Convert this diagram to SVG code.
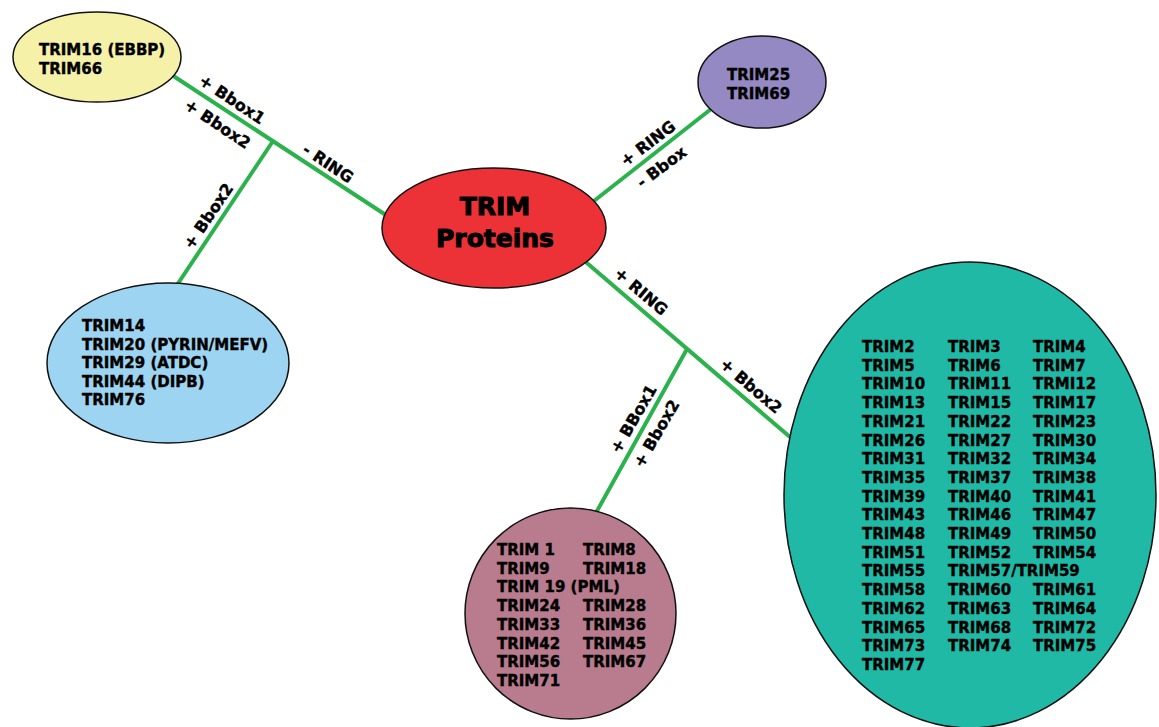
<svg xmlns="http://www.w3.org/2000/svg" width="1159" height="727" viewBox="0 0 1159 727">
<style>
.node{stroke:#111;stroke-width:1.5}
.t{font-family:"DejaVu Sans",sans-serif;font-weight:bold;font-size:15px;fill:#000;stroke:#000;stroke-width:0.4}
.lbl{font-family:"DejaVu Sans",sans-serif;font-weight:bold;font-size:16px;fill:#000;stroke:#000;stroke-width:0.4;text-anchor:middle;dominant-baseline:central}
.title{font-family:"DejaVu Sans",sans-serif;font-weight:bold;font-size:25px;fill:#000;stroke:#000;stroke-width:1;text-anchor:middle}
.edge{stroke:#2bb24c;stroke-width:4;fill:none}
</style>
<rect width="1159" height="727" fill="#fff"/>
<g id="connectors">
<line class="edge" x1="165" y1="70.5" x2="395" y2="221"/>
<line class="edge" x1="273" y1="141" x2="175" y2="288"/>
<line class="edge" x1="585" y1="208" x2="720" y2="102"/>
<line class="edge" x1="577" y1="254.5" x2="800" y2="445.6"/>
<line class="edge" x1="687" y1="349" x2="592" y2="520"/>
<text class="lbl" transform="translate(232,99.5) rotate(33.5)">+ Bbox1</text>
<text class="lbl" transform="translate(217.5,124) rotate(33.5)">+ Bbox2</text>
<text class="lbl" transform="translate(328,163.5) rotate(33.5)">- RING</text>
<text class="lbl" transform="translate(208.5,216) rotate(-56)">+ Bbox2</text>
<text class="lbl" transform="translate(648,143.5) rotate(-37)">+ RING</text>
<text class="lbl" transform="translate(661.5,167) rotate(-37)">- Bbox</text>
<text class="lbl" transform="translate(641,291.5) rotate(40.5)">+ RING</text>
<text class="lbl" transform="translate(751,386) rotate(40.5)">+ Bbox2</text>
<text class="lbl" transform="translate(633.5,419) rotate(-60)">+ BBox1</text>
<text class="lbl" transform="translate(656.5,433.5) rotate(-60)">+ Bbox2</text>
</g>
<g id="trim16">
<ellipse class="node" cx="97" cy="57" rx="84" ry="45" fill="#f6f1a9"/>
<text class="t" x="39" y="55">TRIM16 (EBBP)</text>
<text class="t" x="39" y="73.6">TRIM66</text>
</g>
<g id="trim25">
<ellipse class="node" cx="762" cy="82" rx="64" ry="46" fill="#9489c2"/>
<text class="t" x="727" y="80">TRIM25</text>
<text class="t" x="727" y="98.5">TRIM69</text>
</g>
<g id="trim-proteins">
<ellipse class="node" cx="494" cy="228" rx="112" ry="60" fill="#ed3237"/>
<text class="title" x="495" y="215">TRIM</text>
<text class="title" x="495" y="247">Proteins</text>
</g>
<g id="trim14">
<ellipse class="node" cx="168" cy="363" rx="121" ry="80" fill="#9dd4f1"/>
<text class="t" x="82" y="331">TRIM14</text>
<text class="t" x="82" y="349.6">TRIM20 (PYRIN/MEFV)</text>
<text class="t" x="82" y="368.2">TRIM29 (ATDC)</text>
<text class="t" x="82" y="386.8">TRIM44 (DIPB)</text>
<text class="t" x="82" y="405.4">TRIM76</text>
</g>
<g id="trim1">
<ellipse class="node" cx="570.5" cy="613.5" rx="105.5" ry="105.5" fill="#b97b8e"/>
<text class="t" x="497" y="555">TRIM 1</text><text class="t" x="583" y="555">TRIM8</text>
<text class="t" x="497" y="573.7">TRIM9</text><text class="t" x="583" y="573.7">TRIM18</text>
<text class="t" x="497" y="592.4">TRIM 19 (PML)</text>
<text class="t" x="497" y="611.1">TRIM24</text><text class="t" x="583" y="611.1">TRIM28</text>
<text class="t" x="497" y="629.8">TRIM33</text><text class="t" x="583" y="629.8">TRIM36</text>
<text class="t" x="497" y="648.5">TRIM42</text><text class="t" x="583" y="648.5">TRIM45</text>
<text class="t" x="497" y="667.2">TRIM56</text><text class="t" x="583" y="667.2">TRIM67</text>
<text class="t" x="497" y="685.9">TRIM71</text>
</g>
<g id="trim2">
<ellipse class="node" cx="970" cy="495" rx="186" ry="233" fill="#1fb9a6"/>
<text class="t" x="862" y="352">TRIM2</text><text class="t" x="948" y="352">TRIM3</text><text class="t" x="1033" y="352">TRIM4</text>
<text class="t" x="862" y="370.7">TRIM5</text><text class="t" x="948" y="370.7">TRIM6</text><text class="t" x="1033" y="370.7">TRIM7</text>
<text class="t" x="862" y="389.4">TRIM10</text><text class="t" x="948" y="389.4">TRIM11</text><text class="t" x="1033" y="389.4">TRMI12</text>
<text class="t" x="862" y="408.1">TRIM13</text><text class="t" x="948" y="408.1">TRIM15</text><text class="t" x="1033" y="408.1">TRIM17</text>
<text class="t" x="862" y="426.8">TRIM21</text><text class="t" x="948" y="426.8">TRIM22</text><text class="t" x="1033" y="426.8">TRIM23</text>
<text class="t" x="862" y="445.5">TRIM26</text><text class="t" x="948" y="445.5">TRIM27</text><text class="t" x="1033" y="445.5">TRIM30</text>
<text class="t" x="862" y="464.2">TRIM31</text><text class="t" x="948" y="464.2">TRIM32</text><text class="t" x="1033" y="464.2">TRIM34</text>
<text class="t" x="862" y="482.9">TRIM35</text><text class="t" x="948" y="482.9">TRIM37</text><text class="t" x="1033" y="482.9">TRIM38</text>
<text class="t" x="862" y="501.6">TRIM39</text><text class="t" x="948" y="501.6">TRIM40</text><text class="t" x="1033" y="501.6">TRIM41</text>
<text class="t" x="862" y="520.3">TRIM43</text><text class="t" x="948" y="520.3">TRIM46</text><text class="t" x="1033" y="520.3">TRIM47</text>
<text class="t" x="862" y="539">TRIM48</text><text class="t" x="948" y="539">TRIM49</text><text class="t" x="1033" y="539">TRIM50</text>
<text class="t" x="862" y="557.7">TRIM51</text><text class="t" x="948" y="557.7">TRIM52</text><text class="t" x="1033" y="557.7">TRIM54</text>
<text class="t" x="862" y="576.4">TRIM55</text><text class="t" x="948" y="576.4">TRIM57/TRIM59</text>
<text class="t" x="862" y="595.1">TRIM58</text><text class="t" x="948" y="595.1">TRIM60</text><text class="t" x="1033" y="595.1">TRIM61</text>
<text class="t" x="862" y="613.8">TRIM62</text><text class="t" x="948" y="613.8">TRIM63</text><text class="t" x="1033" y="613.8">TRIM64</text>
<text class="t" x="862" y="632.5">TRIM65</text><text class="t" x="948" y="632.5">TRIM68</text><text class="t" x="1033" y="632.5">TRIM72</text>
<text class="t" x="862" y="651.2">TRIM73</text><text class="t" x="948" y="651.2">TRIM74</text><text class="t" x="1033" y="651.2">TRIM75</text>
<text class="t" x="862" y="669.9">TRIM77</text>
</g>
</svg>
